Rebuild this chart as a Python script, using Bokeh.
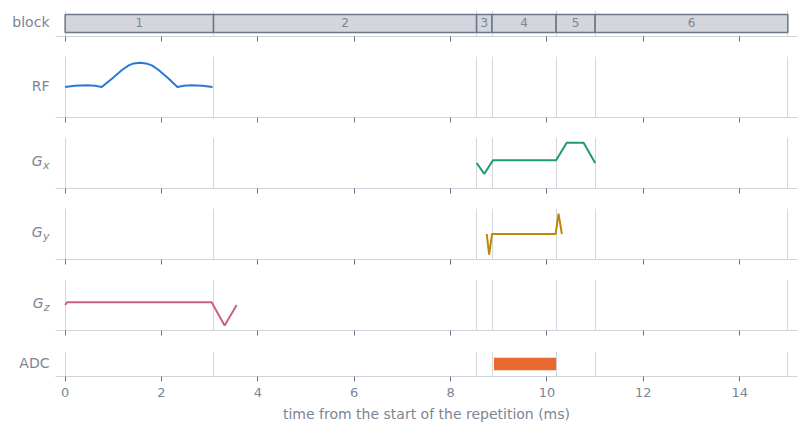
from bokeh.plotting import figure
from bokeh.models import (Range1d, FixedTicker, LinearAxis,
                          CustomLabelingPolicy)
from bokeh.layouts import column
from bokeh.embed import file_html
from bokeh.resources import INLINE
from bokeh.core.properties import value

# ---------------- data ----------------
block_edges = [0.0, 3.08, 8.54, 8.86, 10.19, 11.0, 15.0]
block_names = ["1", "2", "3", "4", "5", "6"]

rf_t = [0.0, 0.2, 0.45, 0.62, 0.76, 0.97, 1.18, 1.32, 1.42, 1.55,
        1.68, 1.80, 1.94, 2.15, 2.33, 2.46, 2.62, 2.85, 3.06]
rf_amp = [0.0, 0.05, 0.07, 0.05, 0.0, 0.34, 0.70, 0.89, 0.97, 1.0,
          0.97, 0.89, 0.70, 0.34, 0.0, 0.05, 0.07, 0.05, 0.0]

gx_t = [8.54, 8.70, 8.88, 10.19, 10.41, 10.76, 11.0]
gx_amp = [0.0, -10.8, 2.8, 2.8, 20.2, 20.2, 0.0]

gy_t = [8.75, 8.80, 8.86, 10.18, 10.24, 10.31]
gy_amp = [0.0, -20.7, 0.0, 0.0, 20.4, 0.0]

gz_t = [0.0, 0.04, 3.04, 3.31, 3.56]
gz_amp = [0.0, 2.8, 2.8, -20.5, 0.0]

adc_start = [8.90]
adc_end = [10.19]

x_ticks = [0, 2, 4, 6, 8, 10, 12, 14]

# ---------------- style ----------------
TXT = "#7c8594"
GRID = "#d3d6dc"
AXIS = "#cfd4db"
TICK = "#66758a"
FONT = "DejaVu Sans"

x_range = Range1d(-0.2, 15.2)

HIDE_ALL = CustomLabelingPolicy(
    code="const ids = [...indices]; for (const i of ids) indices.unset(i); return indices")


def strip_axis(ax):
    ax.axis_line_color = None
    ax.major_tick_line_color = None
    ax.minor_tick_line_color = None
    ax.major_tick_in = 0
    ax.major_tick_out = 0
    ax.minor_tick_in = 0
    ax.minor_tick_out = 0


def make_fig(fh, yr, bt, bb, show_labels=False):
    p = figure(frame_width=742, frame_height=fh, x_range=x_range,
               y_range=Range1d(*yr), output_backend="svg",
               toolbar_location=None, min_border_left=55, min_border_right=4,
               min_border_top=bt, min_border_bottom=bb,
               outline_line_color=None, background_fill_color="white",
               border_fill_color="white")
    p.ygrid.visible = False
    p.xgrid.ticker = FixedTicker(ticks=block_edges)
    p.xgrid.grid_line_color = GRID
    p.xgrid.grid_line_width = 1
    xa = p.xaxis[0]
    xa.ticker = FixedTicker(ticks=x_ticks)
    xa.axis_line_color = AXIS
    xa.axis_line_width = 1
    xa.major_tick_in = 0
    xa.major_tick_out = 5
    xa.major_tick_line_color = TICK
    xa.minor_tick_line_color = None
    if show_labels:
        xa.major_label_text_font = FONT
        xa.major_label_text_font_size = "13px"
        xa.major_label_text_color = TXT
        xa.major_label_standoff = 6
        xa.axis_label = "time from the start of the repetition (ms)"
        xa.axis_label_text_font = FONT
        xa.axis_label_text_font_size = "14px"
        xa.axis_label_text_font_style = "normal"
        xa.axis_label_text_color = TXT
        xa.axis_label_standoff = 6
    else:
        xa.major_label_text_font_size = "0px"
        xa.major_label_policy = HIDE_ALL
    return p


def plain_label(p, text, center):
    ya = p.yaxis[0]
    strip_axis(ya)
    ya.ticker = FixedTicker(ticks=[center])
    ya.major_label_overrides = {center: text}
    ya.major_label_standoff = 6
    ya.major_label_text_font = FONT
    ya.major_label_text_font_size = "14px"
    ya.major_label_text_color = TXT


def g_label(p, sub):
    inner = p.yaxis[0]
    strip_axis(inner)
    inner.ticker = FixedTicker(ticks=[-2.5])
    inner.major_label_overrides = {-2.5: sub}
    inner.major_label_standoff = 6
    inner.major_label_text_font = FONT
    inner.major_label_text_font_size = "11px"
    inner.major_label_text_font_style = "italic"
    inner.major_label_text_color = TXT
    outer = LinearAxis(ticker=FixedTicker(ticks=[2.0]),
                       major_label_overrides={2.0: "G"})
    strip_axis(outer)
    outer.major_label_standoff = -3
    outer.major_label_text_font = FONT
    outer.major_label_text_font_size = "14px"
    outer.major_label_text_font_style = "italic"
    outer.major_label_text_color = TXT
    p.add_layout(outer, "left")


# block panel
pb = make_fig(26, (0, 1), 10, 20)
pb.quad(left=block_edges[:-1], right=block_edges[1:], bottom=0.15, top=0.85,
        fill_color="#d3d6dc", line_color="#6b7686", line_width=1.5)
mids = [(a + b) / 2 for a, b in zip(block_edges[:-1], block_edges[1:])]
pb.text(x=mids, y=[0.55] * len(mids), text=block_names, text_align="center",
        text_baseline="middle", text_font=value(FONT), text_font_size="12px",
        text_color=TXT)
plain_label(pb, "block", 0.56)

# RF
prf = make_fig(61, (-1.255, 1.255), 0, 20)
prf.line(rf_t, rf_amp, line_color="#2a78d6", line_width=2)
plain_label(prf, "RF", 0.04)

# Gx
pgx = make_fig(51, (-25.5, 25.5), 0, 20)
pgx.line(gx_t, gx_amp, line_color="#1f9a70", line_width=2)
g_label(pgx, "x")

# Gy
pgy = make_fig(51, (-25.5, 25.5), 0, 20)
pgy.line(gy_t, gy_amp, line_color="#bf860b", line_width=2)
g_label(pgy, "y")

# Gz
pgz = make_fig(51, (-25.5, 25.5), 0, 21)
pgz.line(gz_t, gz_amp, line_color="#c9617f", line_width=2)
g_label(pgz, "z")

# ADC
padc = make_fig(25, (0, 1), 0, 48, show_labels=True)
padc.quad(left=adc_start, right=adc_end, bottom=0.25, top=0.75,
          fill_color="#e8692f", line_color=None)
plain_label(padc, "ADC", 0.54)

layout = column(pb, prf, pgx, pgy, pgz, padc, spacing=0)

open("out.html", "w").write(file_html(layout, INLINE))
